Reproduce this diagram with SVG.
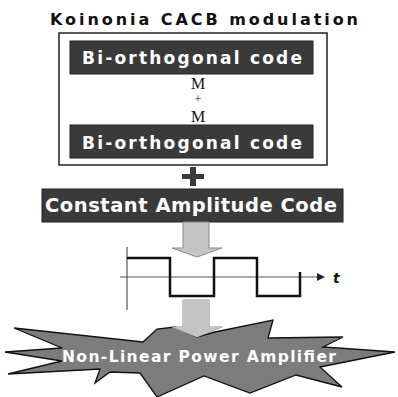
<svg xmlns="http://www.w3.org/2000/svg" width="398" height="397" viewBox="0 0 398 397">
<style>
.bar{fill:#3a3a3a;stroke:#222;stroke-width:1}
.bt{font-family:"DejaVu Sans",sans-serif;font-weight:bold;fill:#fff}
.ser{font-family:"Liberation Serif",serif;fill:#111}
.arrow{fill:#c4c4c4;stroke:#8a8a8a;stroke-width:1}
.axis{stroke:#555;stroke-width:1.2;fill:none}
</style>
<rect width="398" height="397" fill="#fff"/>
<g id="title">
<text x="204" y="25" text-anchor="middle" font-family="DejaVu Sans, sans-serif" font-weight="bold" font-size="16" fill="#111" textLength="308" lengthAdjust="spacing">Koinonia CACB modulation</text>
</g>
<g id="box">
<rect x="59" y="33" width="268" height="132" fill="#fff" stroke="#222" stroke-width="1.5"/>
</g>
<g id="bio1">
<rect class="bar" x="70" y="41" width="243" height="33"/>
<text class="bt" x="192" y="64" text-anchor="middle" font-size="17" textLength="220" lengthAdjust="spacing">Bi-orthogonal code</text>
</g>
<g id="mpm">
<text class="ser" x="198" y="89" text-anchor="middle" font-size="16">M</text>
<text class="ser" x="198" y="103" text-anchor="middle" font-size="12">+</text>
<text class="ser" x="198" y="122" text-anchor="middle" font-size="16">M</text>
</g>
<g id="bio2">
<rect class="bar" x="70" y="125" width="243" height="33"/>
<text class="bt" x="192" y="149" text-anchor="middle" font-size="17" textLength="220" lengthAdjust="spacing">Bi-orthogonal code</text>
</g>
<g id="plus">
<path d="M190,167 H196 V174 H204 V179 H196 V186 H190 V179 H182 V174 H190 Z" fill="#3a3a3a"/>
</g>
<g id="cac">
<rect class="bar" x="42" y="189" width="301" height="33"/>
<text class="bt" x="191" y="212" text-anchor="middle" font-size="19.5" textLength="292" lengthAdjust="spacing">Constant Amplitude Code</text>
</g>
<g id="waveform">
<path class="axis" d="M127,247 V310"/>
<path class="axis" d="M120,277 H318"/>
<path d="M317,273 L325,277 L317,281 Z" fill="#222"/>
<text x="333" y="283" font-family="DejaVu Sans, sans-serif" font-weight="bold" font-style="italic" font-size="14" fill="#111">t</text>
<path d="M127,258 H170 V296 H214 V258 H257 V296 H300 V272" fill="none" stroke="#111" stroke-width="2.5" stroke-linejoin="miter"/>
</g>
<g id="npa">
<path d="M14,328 L143,342 L157,329 L175,327 L197,337 L215,332 L273,320 L268,338 L343,337 L323,347 L395,352 L320,367 L342,387 L296,375 L250,393 L204,376 L157,397 L140,373 L110,372 L95,383 L100,369 L8,374 L62,361 L5,352 L62,348 Z" fill="#7c7c7c" stroke="#111" stroke-width="1.3" stroke-linejoin="miter"/>
<text class="bt" x="199" y="362" text-anchor="middle" font-size="15.5" textLength="274" lengthAdjust="spacing">Non-Linear Power Amplifier</text>
</g>
<g id="connectors">
<path class="arrow" d="M183,222 H209 V248 H222 L197,257 L172,248 H183 Z"/>
<path class="arrow" d="M183,300 H209 V327 H222 L197,337 L172,327 H183 Z" stroke="#fff" stroke-width="2.5" paint-order="stroke"/>
</g>
</svg>
